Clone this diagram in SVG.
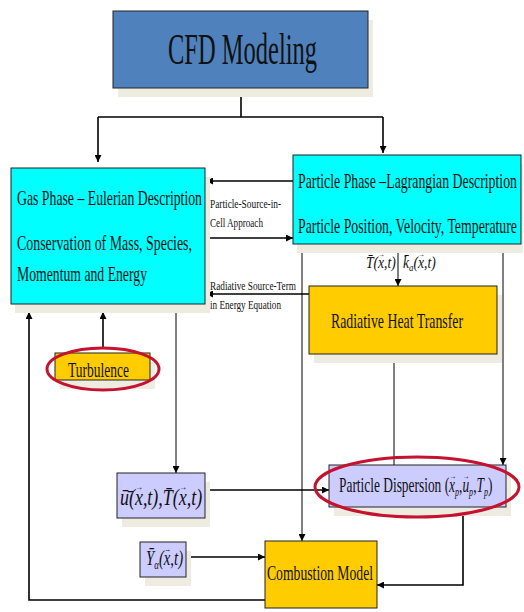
<svg xmlns="http://www.w3.org/2000/svg" width="524" height="612" viewBox="0 0 524 612" font-family="'Liberation Serif', 'Times New Roman', serif">
<defs>
<marker id="ah" viewBox="0 0 10 10" refX="10" refY="5" markerWidth="7" markerHeight="7" markerUnits="userSpaceOnUse" orient="auto">
<path d="M0,0 L10,5 L0,10 z" fill="#000"/>
</marker>
<style>
text{font-family:'Liberation Serif','Times New Roman',serif;fill:#111}
.sh{fill:#EEECE1}
.box{stroke:#222;stroke-width:1}
.blue{fill:#4F81BD}
.cyan{fill:#00FFFF}
.gold{fill:#FFCC00}
.lav{fill:#CCCCFF}
.ell{fill:none;stroke:#C4122F;stroke-width:3}
.c{fill:none;stroke:#000;stroke-width:1.6}
.t{fill:none;stroke:#000;stroke-width:1}
.a{marker-end:url(#ah)}
.m{font-style:italic}
</style>
</defs>
<g id="connectors">
<line class="c" x1="241" y1="88" x2="241" y2="117"/>
<polyline class="c" points="98,117 383,117"/>
<line class="c a" x1="98" y1="117" x2="98" y2="162"/>
<line class="c a" x1="383" y1="117" x2="383" y2="153"/>
<line class="c a" x1="293" y1="181" x2="206" y2="181"/>
<line class="c a" x1="205" y1="238" x2="293" y2="238"/>
<line class="c a" x1="309" y1="294" x2="206" y2="294"/>
<line class="t a" x1="398" y1="244" x2="398" y2="286"/>
<line class="t a" x1="302" y1="250" x2="302" y2="541"/>
<line class="t a" x1="503" y1="250" x2="503" y2="465"/>
<line class="t" x1="394" y1="354" x2="394" y2="465"/>
<line class="t a" x1="176" y1="313" x2="176" y2="473"/>
<line class="c a" x1="103" y1="348" x2="103" y2="312"/>
<polyline class="c a" points="265,600 29,600 29,312"/>
<line class="c a" x1="208" y1="490" x2="329" y2="490"/>
<line class="c a" x1="188" y1="557" x2="265" y2="557"/>
<polyline class="c a" points="463,507 463,585 377,585"/>
</g>
<g id="cfd">
<rect class="sh" x="118" y="20" width="255" height="77"/>
<rect class="box blue" x="113" y="11" width="255" height="77"/>
<text x="168" y="64" font-size="44" textLength="149" lengthAdjust="spacingAndGlyphs">CFD Modeling</text>
</g>
<g id="gas">
<rect class="sh" x="15" y="177" width="195" height="136"/>
<rect class="box cyan" x="11" y="168" width="194" height="136"/>
<text x="17" y="205" font-size="21" textLength="185" lengthAdjust="spacingAndGlyphs">Gas Phase – Eulerian Description</text>
<text x="17" y="250" font-size="21" textLength="175" lengthAdjust="spacingAndGlyphs">Conservation of Mass, Species,</text>
<text x="17" y="281" font-size="21" textLength="130" lengthAdjust="spacingAndGlyphs">Momentum and Energy</text>
</g>
<g id="particle">
<rect class="sh" x="297" y="164" width="226" height="89"/>
<rect class="box cyan" x="293" y="155" width="228" height="89"/>
<text x="298" y="188" font-size="21" textLength="219" lengthAdjust="spacingAndGlyphs">Particle Phase –Lagrangian Description</text>
<text x="298" y="233" font-size="21" textLength="219" lengthAdjust="spacingAndGlyphs">Particle Position, Velocity, Temperature</text>
</g>
<g id="label-psic">
<text x="210" y="208" font-size="13" textLength="71" lengthAdjust="spacingAndGlyphs">Particle-Source-in-</text>
<text x="210" y="227" font-size="13" textLength="53" lengthAdjust="spacingAndGlyphs">Cell Approach</text>
</g>
<g id="label-rst">
<text x="210" y="290" font-size="13" textLength="86" lengthAdjust="spacingAndGlyphs">Radiative Source-Term</text>
<text x="210" y="309" font-size="13" textLength="71" lengthAdjust="spacingAndGlyphs">in Energy Equation</text>
</g>
<g id="label-tk">
<text class="m" transform="translate(366,268) scale(0.8,1)" font-size="17">T̄(x<tspan dx="-7" dy="-11" font-size="8" font-style="normal">→</tspan><tspan dx="-1" dy="11">,t)</tspan></text>
<text class="m" transform="translate(403,268) scale(0.8,1)" font-size="17">k̄<tspan font-size="11" dy="3">a</tspan><tspan dy="-3">(x</tspan><tspan dx="-7" dy="-11" font-size="8" font-style="normal">→</tspan><tspan dx="-1" dy="11">,t)</tspan></text>
</g>
<g id="radiative">
<rect class="sh" x="314" y="295" width="188" height="68"/>
<rect class="box gold" x="309" y="286" width="188" height="68"/>
<text x="331" y="328" font-size="21" textLength="132" lengthAdjust="spacingAndGlyphs">Radiative Heat Transfer</text>
</g>
<g id="turbulence">
<rect class="sh" x="60" y="362" width="95" height="27"/>
<rect class="box gold" x="55" y="353" width="95" height="27"/>
<text x="68" y="377" font-size="21" textLength="61" lengthAdjust="spacingAndGlyphs">Turbulence</text>
<ellipse class="ell" cx="103" cy="369" rx="56" ry="21"/>
</g>
<g id="ut">
<rect class="sh" x="122" y="482" width="88" height="45"/>
<rect class="box lav" x="117" y="473" width="88" height="45"/>
<text class="m" transform="translate(120,505) scale(0.78,1)" font-size="23">ū̄(x<tspan dx="-9.7" dy="-15" font-size="10" font-style="normal">→</tspan><tspan dx="-0.3" dy="15">,t),T̄(x</tspan><tspan dx="-9.7" dy="-15" font-size="10" font-style="normal">→</tspan><tspan dx="-0.3" dy="15">,t)</tspan></text>
</g>
<g id="dispersion">
<rect class="sh" x="334" y="474" width="177" height="42"/>
<rect class="box lav" x="329" y="465" width="177" height="42"/>
<text transform="translate(339,492) scale(0.67,1)" font-size="20">Particle Dispersion (<tspan class="m">x</tspan><tspan dx="-8.4" dy="-13" font-size="10">→</tspan><tspan class="m" font-size="12" dx="-1.6" dy="17">p</tspan><tspan dy="-4">,</tspan><tspan class="m">u</tspan><tspan dx="-9.5" dy="-13" font-size="10">→</tspan><tspan class="m" font-size="12" dx="-0.5" dy="17">p</tspan><tspan dy="-4">,</tspan><tspan class="m">T</tspan><tspan class="m" font-size="12" dy="4">p</tspan><tspan dy="-4">)</tspan></text>
<ellipse class="ell" cx="417" cy="487" rx="102" ry="30"/>
</g>
<g id="ya">
<rect class="sh" x="145" y="551" width="46" height="35"/>
<rect class="box lav" x="140" y="542" width="46" height="35"/>
<text class="m" transform="translate(146,565) scale(0.74,1)" font-size="20">Ȳ<tspan font-size="12" dy="4">α</tspan><tspan dy="-4">(x</tspan><tspan dx="-8.4" dy="-13" font-size="9" font-style="normal">→</tspan><tspan dx="-0.6" dy="13">,t)</tspan></text>
</g>
<g id="combustion">
<rect class="box gold" x="265" y="541" width="112" height="67"/>
<text x="267" y="580" font-size="21" textLength="106" lengthAdjust="spacingAndGlyphs">Combustion Model</text>
</g>
</svg>
